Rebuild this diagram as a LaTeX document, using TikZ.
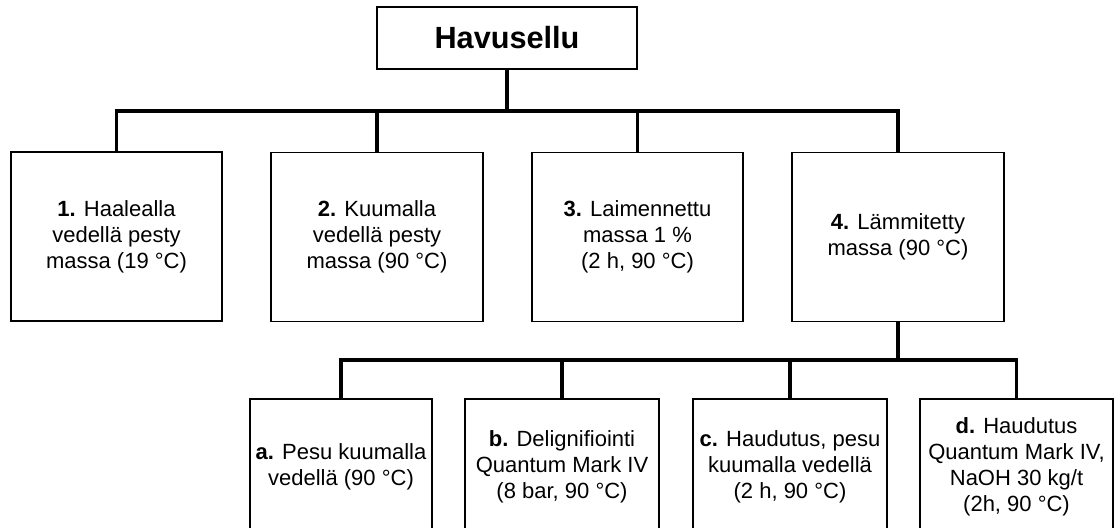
\documentclass[tikz,border=0pt]{standalone}
\usepackage{fontspec}
\setmainfont{Liberation Sans}

\begin{document}
\begin{tikzpicture}[x=0.75pt, y=-0.75pt,
        box/.style={draw, line width=1.3pt, align=center, inner sep=2pt,
            font=\fontsize{16.5}{19.5}\selectfont},
        rowone/.style={box, minimum height=126.75pt},
        rowtwo/.style={box, minimum height=102pt},
        conn/.style={line width=2.5pt, line cap=rect}]

        % page area
        \useasboundingbox (0,0) rectangle (1115,528);
        \clip (0,0) rectangle (1115,528);

        % Root
        \node[box, minimum width=195pt, minimum height=46.5pt,
            font=\fontsize{23}{26}\selectfont\bfseries] (root) at (507,38) {Havusellu};

        % First level
        \node[rowone, minimum width=158.25pt] (m1) at (116.5,236.5)
            {\textbf{1.} Haalealla\\vedellä pesty\\massa (19 °C)};
        \node[rowone, minimum width=159pt] (m2) at (377,237)
            {\textbf{2.} Kuumalla\\vedellä pesty\\massa (90 °C)};
        \node[rowone, minimum width=158.25pt] (m3) at (637.5,237)
            {\textbf{3.} Laimennettu\\massa 1 \%\\(2 h, 90 °C)};
        \node[rowone, minimum width=159pt] (m4) at (898,237)
            {\textbf{4.} Lämmitetty\\massa (90 °C)};

        % Second level
        \node[rowtwo, minimum width=136.5pt] (ma) at (341,467)
            {\textbf{a.} Pesu kuumalla\\vedellä (90 °C)};
        \node[rowtwo, minimum width=145.5pt] (mb) at (562,467)
            {\textbf{b.} Delignifiointi\\Quantum Mark IV\\(8 bar, 90 °C)};
        \node[rowtwo, minimum width=145.5pt] (mc) at (790,467)
            {\textbf{c.} Haudutus, pesu\\kuumalla vedellä\\(2 h, 90 °C)};
        \node[rowtwo, minimum width=144.75pt] (md) at (1016.5,467)
            {\textbf{d.} Haudutus\\Quantum Mark IV,\\NaOH 30 kg/t\\(2h, 90 °C)};

        % Connectors
        \coordinate (bar1) at (0,111);
        \coordinate (bar2) at (0,360);
        \foreach \n in {m1,m2,m3,m4}
            \draw[conn] (root.south) -- (root.south |- bar1) -| (\n.north);
        \foreach \n in {ma,mb,mc,md}
            \draw[conn] (m4.south) -- (m4.south |- bar2) -| (\n.north);
    \end{tikzpicture}
\end{document}
